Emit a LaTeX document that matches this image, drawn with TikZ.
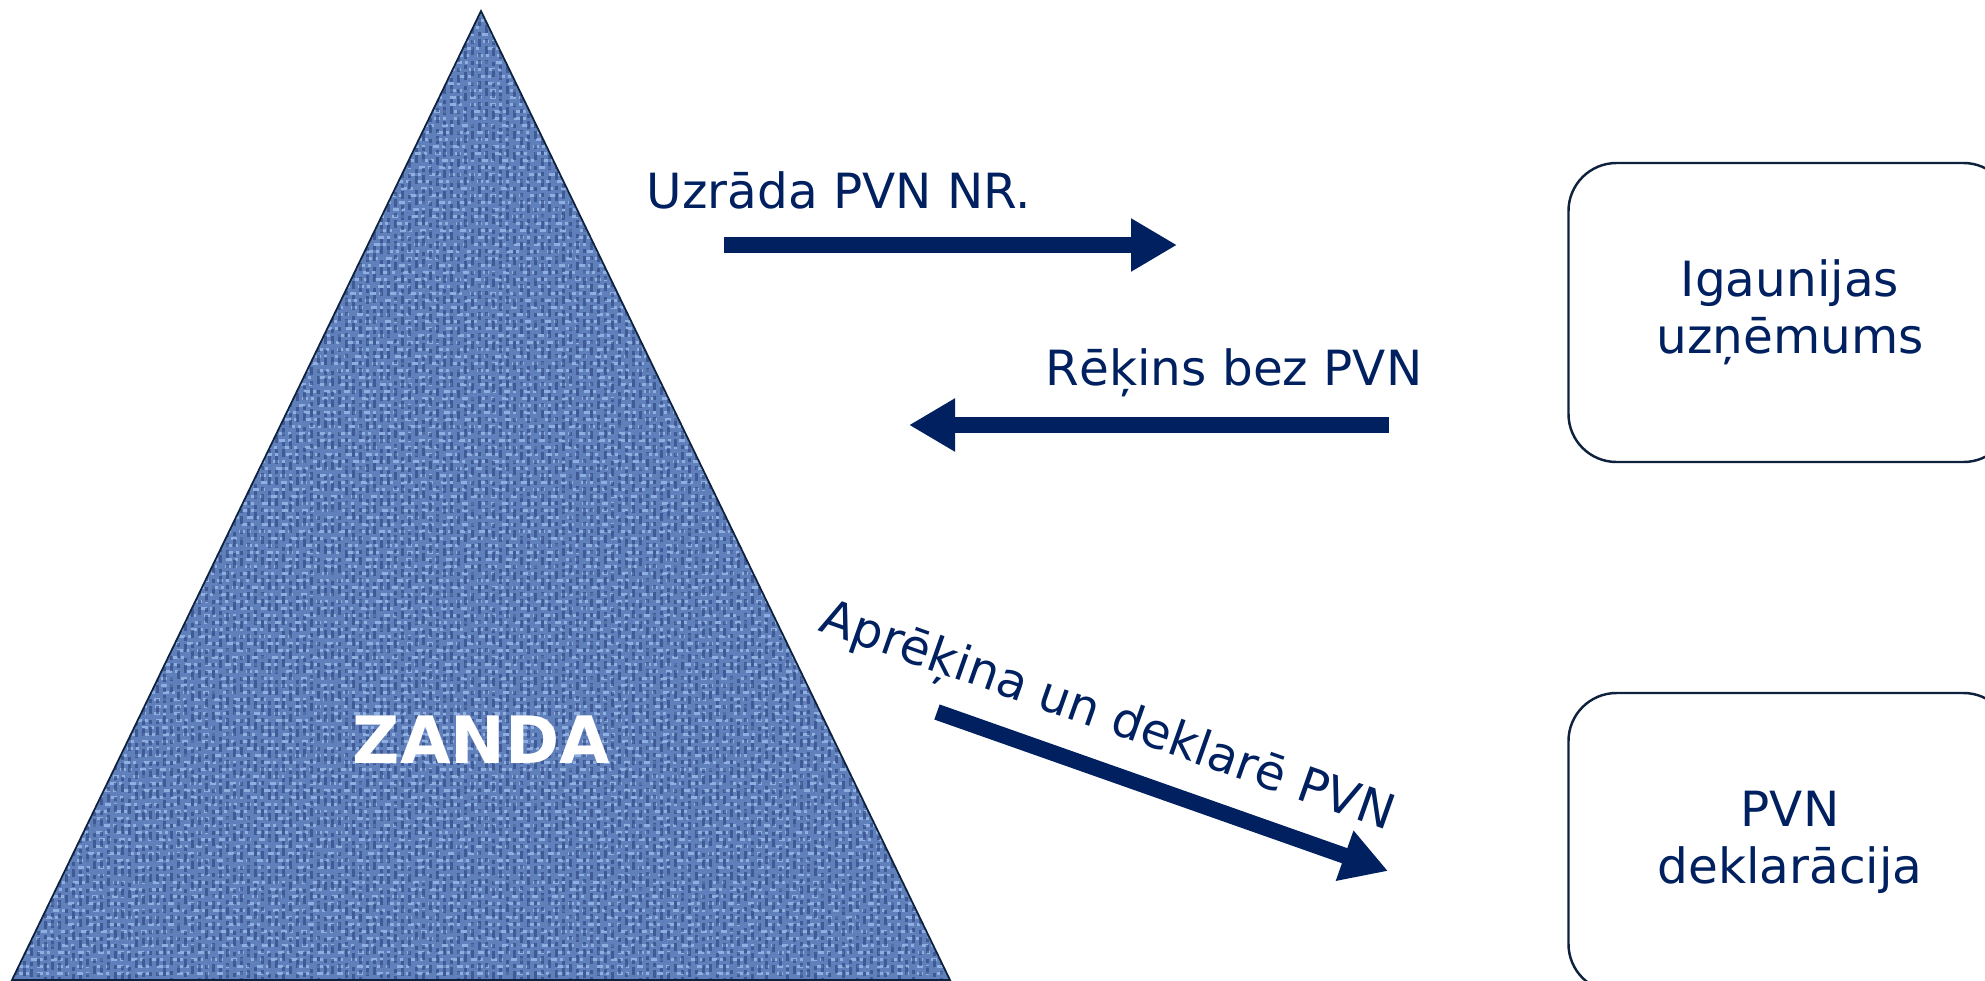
\documentclass[tikz,border=0pt]{standalone}
\usepackage{fontspec}
\setmainfont{DejaVu Sans}
\usetikzlibrary{arrows.meta}

\definecolor{navy}{RGB}{0,32,96}
\definecolor{boxline}{RGB}{14,34,62}
\definecolor{denim}{RGB}{96,128,188}
\definecolor{denimlight}{RGB}{165,196,242}
\definecolor{denimdark}{RGB}{36,60,116}

\tikzset{
  label/.style={text=navy, inner sep=0pt, font=\fontsize{13.8}{16.2}\selectfont},
  partner/.style={draw=boxline, line width=0.7pt, rounded corners=0.48cm,
    minimum width=4.43cm, minimum height=2.99cm, align=center,
    text=navy, font=\fontsize{13.8}{16.2}\selectfont},
  flow/.style={draw=navy, line width=0.16cm, -{Triangle[length=0.46cm,width=0.5cm]}}
}

\begin{document}
\begin{tikzpicture}
    \useasboundingbox (0,0) rectangle (19.85,9.8);

    % Draw the triangle for Zanda with a woven texture
    \coordinate (top) at (4.81,9.69);
    \coordinate (left) at (0.12,0);
    \coordinate (right) at (9.50,0);
    \begin{scope}
        \clip (top) -- (left) -- (right) -- cycle;
        \fill[denim] (0,0) rectangle (9.6,9.8);
        \pgfmathsetseed{7}
        \foreach \y in {0,0.07,...,9.8} {
            \pgfmathsetmacro{\ph}{rnd*0.2}
            \draw[denimlight, opacity=0.7, line width=0.03cm,
                  dash pattern=on 0.06cm off 0.03cm on 0.03cm off 0.08cm,
                  dash phase=\ph cm] (0,\y) -- (9.6,\y);
        }
        \foreach \x in {0.035,0.105,...,9.6} {
            \pgfmathsetmacro{\ph}{rnd*0.2}
            \draw[denimdark, opacity=0.55, line width=0.03cm,
                  dash pattern=on 0.08cm off 0.03cm on 0.04cm off 0.06cm,
                  dash phase=\ph cm] (\x,0) -- (\x,9.8);
        }
    \end{scope}
    \draw[boxline, line width=0.5pt] (top) -- (left) -- (right) -- cycle;
    \node[text=white, font=\fontsize{18.6}{20}\selectfont\bfseries] (zanda) at (4.815,2.40) {ZANDA};

    % Partner boxes on the right
    \node[partner] (igaunija) at (17.90,6.675) {Igaunijas\\uzņēmums};
    \node[partner] (deklaracija) at (17.90,1.375) {PVN\\deklarācija};

    % Arrow ends
    \coordinate (uzr_a) at (7.24,7.35);
    \coordinate (uzr_b) at (11.77,7.35);
    \coordinate (rek_a) at (13.89,5.55);
    \coordinate (rek_b) at (9.09,5.55);
    \coordinate (apr_a) at (9.37,2.68);
    \coordinate (apr_b) at (13.88,1.09);

    \draw[flow] (uzr_a) -- (uzr_b);
    \draw[flow] (rek_a) -- (rek_b);
    \draw[flow] (apr_a) -- (apr_b);

    % Labels on the arrows
    \node[label, anchor=base west] (uzrada) at (6.46,7.72) {Uzrāda PVN NR.};
    \node[label, anchor=base west] (rekins) at (10.45,5.95) {Rēķins bez PVN};
    \node[label, anchor=base west, rotate=-19.4] (aprekina) at (8.17,3.50) {Aprēķina un deklarē PVN};
\end{tikzpicture}
\end{document}
